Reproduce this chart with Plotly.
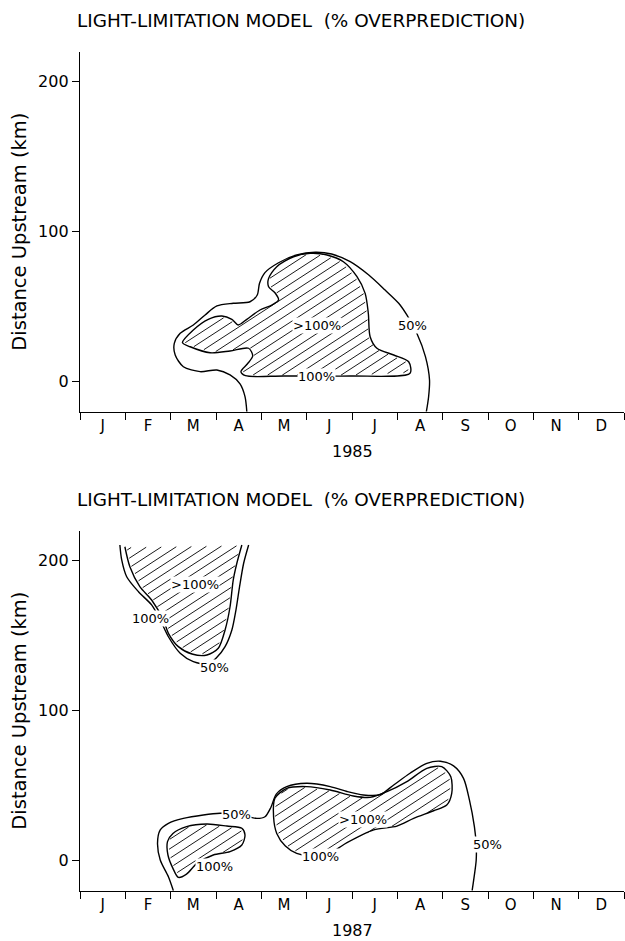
import numpy as np
import plotly.graph_objects as go

# ---------------- data ----------------
months = ["J", "F", "M", "A", "M", "J", "J", "A", "S", "O", "N", "D"]
month_centers = [i + 0.5 for i in range(12)]
month_edges = list(range(13))
ytick_vals = [0, 100, 200]
ytick_text = ["0", "100", "200"]

# sampling dates (month units from 1 Jan)
samples_1985 = [0.80, 1.46, 2.34, 3.00, 3.59, 4.25, 4.78, 6.83, 9.60]
samples_1987 = [0.32, 1.47, 2.03, 2.76, 3.27, 3.94, 4.82, 5.69, 6.79, 7.82, 8.94, 10.08, 11.21]

# 1985 contours (month, km)
c85_50_m = [3.68, 3.64, 3.53, 3.31, 3.02, 2.65, 2.28, 2.10, 2.08, 2.21, 2.50, 2.76, 3.02, 3.38, 3.75, 3.91,
            3.96, 4.08, 4.38, 4.78, 5.19, 5.55, 5.96, 6.37, 6.73, 7.03, 7.21, 7.43, 7.62, 7.71, 7.69, 7.64]
c85_50_km = [-20, -10, -1.5, 4.5, 7.8, 6.7, 10, 17.8, 25.6, 32.3, 37.8, 44.5, 50.5, 52.3, 53.3, 57.8,
             65.6, 72.7, 79.3, 84.5, 86.3, 85.1, 80, 71.1, 61.1, 52.3, 44.5, 32.3, 16.7, 1.1, -10, -20]

c85_100_m = [7.28, 7.25, 6.92, 6.55, 6.40, 6.36, 6.29, 6.11, 5.81, 5.45, 5.08, 4.71, 4.34, 4.16, 4.16, 4.30,
             4.38, 4.23, 3.97, 3.68, 3.49, 3.35, 3.13, 2.83, 2.50, 2.26, 2.43, 2.87, 3.31, 3.72, 3.81, 3.69,
             3.55, 3.65, 4.50, 5.96]
c85_100_km = [5.6, 13.3, 17.8, 22.3, 30, 45.6, 58.9, 70, 80, 84.5, 85.6, 83.3, 76.7, 68.9, 63.3, 59.3,
              54.5, 51.1, 47.8, 41.6, 37.8, 41.6, 43.8, 41.6, 34.5, 26, 23.3, 19.3, 20.5, 22.3, 17.1, 11.8,
              6.7, 4, 3.8, 3.8]

# 1987 contours, upper-estuary lobe
c87a_50_m = [0.88, 0.92, 1.03, 1.29, 1.58, 1.77, 1.95, 2.21, 2.50, 2.83, 3.02, 3.20, 3.35, 3.44, 3.52, 3.61, 3.72]
c87a_50_km = [210.5, 200.5, 189.3, 179.3, 170.5, 160.5, 149.3, 138.3, 132.7, 131.1, 135.6, 142.7, 153.8, 167.1,
              182.7, 198.3, 210.5]
c87a_100_m = [0.99, 1.10, 1.32, 1.58, 1.84, 1.95, 2.17, 2.47, 2.80, 3.05, 3.20, 3.31, 3.38, 3.46, 3.57]
c87a_100_km = [209.3, 196, 182.7, 173.8, 160.5, 151.6, 142.7, 137.8, 137.1, 141.6, 153.8, 169.3, 187.1,
               198.3, 210.5]

# 1987 contours, lower-estuary lobes
c87b_50_m = [2.06, 1.95, 1.77, 1.71, 1.77, 1.95, 2.28, 2.72, 3.09, 3.46, 3.90, 4.08, 4.21, 4.33, 4.56, 5.00,
             5.52, 5.89, 6.25, 6.62, 6.92, 7.28, 7.65, 7.95, 8.24, 8.46, 8.59, 8.70, 8.74, 8.74, 8.70, 8.65]
c87b_50_km = [-20, -10.7, 0.5, 11.6, 20.5, 24.9, 28.2, 30.5, 31.6, 31.1, 28.2, 29.3, 35.5, 44.4, 49.4, 51.6,
              49.4, 46.1, 43.8, 44.0, 50.5, 58.3, 64.9, 66.3, 63.2, 54.9, 40.5, 22.7, 10.5, 0.5, -9.5, -20]
c87b_100s_m = [1.93, 2.05, 2.35, 2.80, 3.24, 3.57, 3.64, 3.57, 3.31, 2.94, 2.58, 2.35, 2.17, 2.05, 1.94]
c87b_100s_km = [12.7, 18.2, 22.7, 24.5, 23.1, 21.6, 17.1, 10.5, 6.1, 3.8, -1.8, -8.9, -11.1, -5.1, 3.8]
c87b_100l_m = [4.30, 4.56, 5.00, 5.52, 6.03, 6.40, 6.77, 7.21, 7.65, 7.98, 8.18, 8.20, 8.09, 7.80, 7.36, 6.99,
               6.48, 5.89, 5.59, 5.15, 4.78, 4.53, 4.34, 4.27]
c87b_100l_km = [41.6, 48.2, 49.4, 47.1, 43.1, 42.2, 46.0, 52.7, 61.6, 62.7, 56.0, 44.9, 37.1, 33.3, 28.2, 23.1,
                20.5, 12.0, 6.6, 3.1, 4.9, 9.8, 18.2, 29.3]

# contour labels: (text, month, km, panel)
labels = [
    (">100%", 5.22, 37.5, 1), ("100%", 5.22, 3.5, 1), ("50%", 7.33, 37.5, 1),
    (">100%", 2.54, 184, 2), ("100%", 1.55, 161.6, 2), ("50%", 2.97, 129, 2),
    ("50%", 3.46, 30.5, 2), ("100%", 2.97, -4, 2), (">100%", 6.25, 27.5, 2),
    ("100%", 5.30, 2.7, 2), ("50%", 8.98, 10.5, 2),
]
title_text = "LIGHT-LIMITATION MODEL  (% OVERPREDICTION)"
years = ["1985", "1987"]

# ---------------- helpers ----------------
SX, SY = 45.3, 1.5          # px per month, px per km
ANG = np.deg2rad(33)


def hatch(xm, ykm, spacing=8.0, trim=1.5):
    px = np.array(xm) * SX
    py = np.array(ykm) * SY
    u = -px * np.sin(ANG) + py * np.cos(ANG)
    v = px * np.cos(ANG) + py * np.sin(ANG)
    n = len(px)
    xs, ys = [], []
    for c in np.arange(u.min() + spacing / 2, u.max(), spacing):
        hits = []
        for i in range(n):
            j = (i + 1) % n
            u1, u2 = u[i], u[j]
            if (u1 <= c < u2) or (u2 <= c < u1):
                t = (c - u1) / (u2 - u1)
                hits.append(v[i] + t * (v[j] - v[i]))
        hits.sort()
        for a, b in zip(hits[0::2], hits[1::2]):
            a2, b2 = a + trim, b - trim
            if b2 <= a2:
                continue
            for vv in (a2, b2):
                X = vv * np.cos(ANG) - c * np.sin(ANG)
                Y = vv * np.sin(ANG) + c * np.cos(ANG)
                xs.append(X / SX)
                ys.append(Y / SY)
            xs.append(None)
            ys.append(None)
    return xs, ys


fig = go.Figure()


def add_line(xm, ykm, panel, closed=False):
    xx, yy = list(xm), list(ykm)
    if closed:
        xx.append(xx[0]); yy.append(yy[0])
    fig.add_trace(go.Scatter(x=xx, y=yy, mode="lines",
                             line=dict(color="black", width=1.4, shape="spline", smoothing=0.8),
                             xaxis="x" if panel == 1 else "x2", yaxis="y" if panel == 1 else "y2",
                             showlegend=False, hoverinfo="skip"))


def add_hatch(xm, ykm, panel):
    hx, hy = hatch(xm, ykm)
    fig.add_trace(go.Scatter(x=hx, y=hy, mode="lines", line=dict(color="black", width=0.9),
                             xaxis="x" if panel == 1 else "x2", yaxis="y" if panel == 1 else "y2",
                             showlegend=False, hoverinfo="skip"))


add_hatch(c85_100_m, c85_100_km, 1)
add_line(c85_50_m, c85_50_km, 1)
add_line(c85_100_m, c85_100_km, 1, closed=True)

add_hatch(c87a_100_m, c87a_100_km, 2)
add_line(c87a_50_m, c87a_50_km, 2)
add_line(c87a_100_m, c87a_100_km, 2)
add_hatch(c87b_100s_m, c87b_100s_km, 2)
add_hatch(c87b_100l_m, c87b_100l_km, 2)
add_line(c87b_50_m, c87b_50_km, 2)
add_line(c87b_100s_m, c87b_100s_km, 2, closed=True)
add_line(c87b_100l_m, c87b_100l_km, 2, closed=True)

# sampling markers
for samples, panel in ((samples_1985, 1), (samples_1987, 2)):
    fig.add_trace(go.Scatter(x=samples, y=[224] * len(samples), mode="markers",
                             marker=dict(symbol="triangle-down", size=7, color="black"),
                             cliponaxis=False,
                             xaxis="x" if panel == 1 else "x2", yaxis="y" if panel == 1 else "y2",
                             showlegend=False, hoverinfo="skip"))

FONT = "DejaVu Sans"
annotations = []
for txt, m, km, panel in labels:
    annotations.append(dict(text=txt, x=m, y=km, xref="x" if panel == 1 else "x2",
                            yref="y" if panel == 1 else "y2", showarrow=False,
                            font=dict(family=FONT, size=13, color="black"),
                            bgcolor="white", borderpad=0))

H = 941.0
top_dom = [1 - 411.7 / H, 1 - 51.7 / H]
bot_dom = [1 - 890.7 / H, 1 - 530.7 / H]

for dom, yr in ((top_dom, years[0]), (bot_dom, years[1])):
    annotations.append(dict(text=title_text, x=-0.009, xanchor="left", y=dom[1] + 31 / H, yanchor="middle",
                            xref="paper", yref="paper", showarrow=False,
                            font=dict(family=FONT, size=18.4, color="black")))
    annotations.append(dict(text=yr, x=0.5, y=dom[0] - 40 / H, yanchor="middle",
                            xref="paper", yref="paper", showarrow=False,
                            font=dict(family=FONT, size=16, color="black")))
    annotations.append(dict(text="Distance Upstream (km)", x=-60 / 544.0, y=(dom[0] + dom[1]) / 2,
                            xanchor="center", yanchor="middle", textangle=-90,
                            xref="paper", yref="paper", showarrow=False,
                            font=dict(family=FONT, size=19.5, color="black")))

xax = dict(range=[0, 12], tickvals=month_centers, ticktext=months, ticks="", showgrid=False,
           zeroline=False, showline=True, linecolor="black", linewidth=1.3,
           tickfont=dict(family=FONT, size=15, color="black"),
           minor=dict(tickvals=month_edges, ticks="outside", ticklen=7, tickcolor="black", tickwidth=1.2),
           fixedrange=True)
yax = dict(range=[-20, 220], tickvals=ytick_vals, ticktext=ytick_text, ticks="outside", ticklen=7,
           tickcolor="black", tickwidth=1.2, showgrid=False, zeroline=False, showline=True,
           linecolor="black", linewidth=1.3, tickfont=dict(family=FONT, size=16, color="black"),
           fixedrange=True)

fig.update_layout(
    width=625, height=941,
    margin=dict(l=80, r=1, t=0, b=0),
    paper_bgcolor="white", plot_bgcolor="white",
    xaxis=dict(xax, domain=[0, 1], anchor="y"),
    yaxis=dict(yax, domain=top_dom, anchor="x"),
    xaxis2=dict(xax, domain=[0, 1], anchor="y2"),
    yaxis2=dict(yax, domain=bot_dom, anchor="x2"),
    annotations=annotations,
    showlegend=False,
)

fig.write_html("out.html", config={"displayModeBar": False},
               post_script="document.body.style.margin='0';document.body.style.overflow='hidden';")
